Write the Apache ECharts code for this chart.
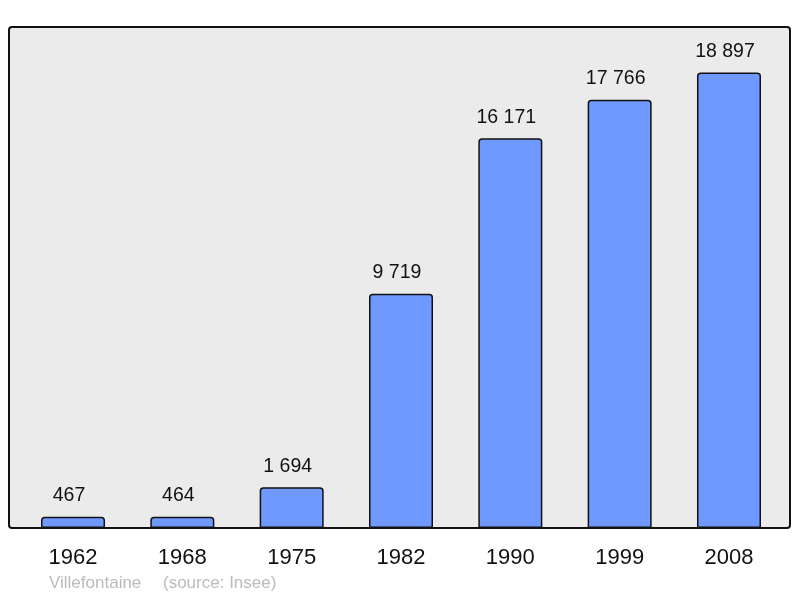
<!DOCTYPE html>
<html>
<head>
<meta charset="utf-8">
<script src="https://cdn.jsdelivr.net/npm/echarts@6/dist/echarts.min.js"></script>
<style>html,body{margin:0;padding:0;background:#fff;}#c{width:800px;height:598px;}</style>
</head>
<body>
<div id="c"></div>
<script>
const categories = ['1962','1968','1975','1982','1990','1999','2008'];
const population = [467, 464, 1694, 9719, 16171, 17766, 18897];
const placeName = 'Villefontaine';
const sourceText = '(source: Insee)';

const fmt = v => String(v).replace(/\B(?=(\d{3})+(?!\d))/g, ' ');
const chart = echarts.init(document.getElementById('c'), null, {renderer: 'canvas'});
chart.setOption({
  animation: false,
  backgroundColor: '#ffffff',
  graphic: [
    {type: 'rect', z: -10, shape: {x: 9, y: 27, width: 781, height: 501, r: 3},
     style: {fill: '#ebebeb', stroke: '#111', lineWidth: 2}},
    {type: 'text', left: 49, top: 575, style: {text: placeName, fill: '#bbbbbb', font: '17px "Liberation Sans", Arial, sans-serif'}},
    {type: 'text', left: 163, top: 575, style: {text: sourceText, fill: '#bbbbbb', font: '17px "Liberation Sans", Arial, sans-serif'}}
  ],
  grid: {left: 18.35, right: 16.35, top: 27, bottom: 70, containLabel: false},
  xAxis: {
    type: 'category', data: categories,
    axisLine: {show: false}, axisTick: {show: false},
    axisLabel: {fontSize: 22, color: '#111', margin: 19, fontFamily: '"Liberation Sans", Arial, sans-serif'}
  },
  yAxis: {
    type: 'value', min: 0, max: 20787,
    show: false, splitLine: {show: false}
  },
  series: [{
    type: 'bar', data: population, barWidth: 64,
    itemStyle: {color: '#7099ff', borderColor: '#111', borderWidth: 1.5, borderRadius: [3,3,0,0]},
    label: {show: true, position: 'top', distance: 11, offset: [-4, 0], fontSize: 19.5, color: '#111',
      fontFamily: '"Liberation Sans", Arial, sans-serif', formatter: p => fmt(p.value)}
  }]
});
</script>
</body>
</html>
